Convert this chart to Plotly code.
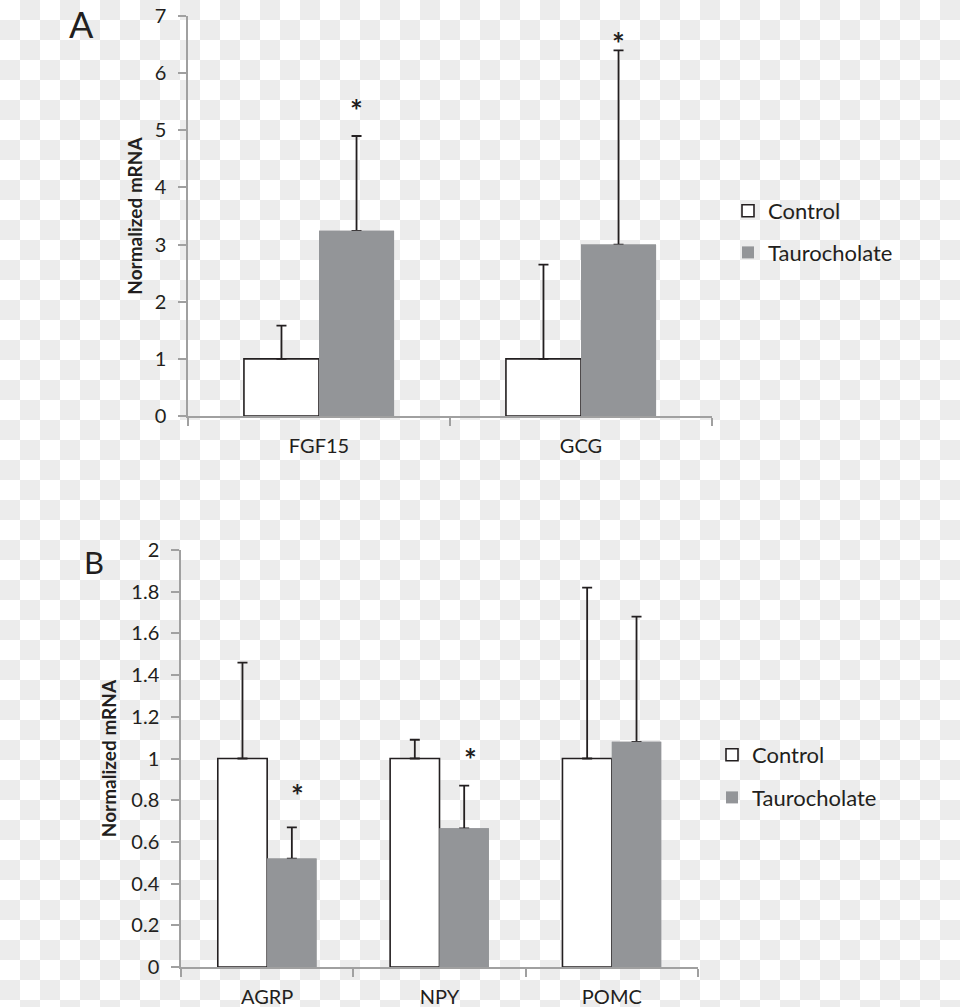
import base64
import plotly.graph_objects as go

# ---------------- data ----------------
# Panel A
genes_a = ["FGF15", "GCG"]
control_a = [1.0, 1.0]
control_a_err = [0.58, 1.65]
tauro_a = [3.24, 3.0]
tauro_a_err = [1.66, 3.4]
star_a_genes = ["FGF15", "GCG"]
star_a_y = [5.45, 6.62]
yticks_a = [0, 1, 2, 3, 4, 5, 6, 7]
yticklabels_a = ["0", "1", "2", "3", "4", "5", "6", "7"]

# Panel B
genes_b = ["AGRP", "NPY", "POMC"]
control_b = [1.0, 1.0, 1.0]
control_b_err = [0.46, 0.09, 0.82]
tauro_b = [0.52, 0.665, 1.08]
tauro_b_err = [0.15, 0.205, 0.60]
star_b_genes = ["AGRP", "NPY"]
star_b_y = [0.85, 1.02]
yticks_b = [0, 0.2, 0.4, 0.6, 0.8, 1.0, 1.2, 1.4, 1.6, 1.8, 2.0]
yticklabels_b = ["0", "0.2", "0.4", "0.6", "0.8", "1", "1.2", "1.4", "1.6", "1.8", "2"]

series_names = ["Control", "Taurocholate"]

# ---------------- style ----------------
W, H = 960, 1007
FONT = "Lato"
DARK = "#231f20"
GREY_BAR = "#939598"
AXIS = "#a0a0a0"
BARGAP = 0.427

def px(x):
    return x / W

def py(y):
    return 1 - y / H

fig = go.Figure()

def add_panel(genes, ctrl, ctrl_err, tau, tau_err, xa, ya, legend):
    err_style = dict(type="data", symmetric=False, color=DARK, thickness=1.8, width=5)
    fig.add_trace(go.Bar(
        x=genes, y=ctrl, name=series_names[0], xaxis=xa, yaxis=ya, legend=legend,
        offsetgroup="c",
        marker=dict(color="white", line=dict(color=DARK, width=1.6)),
        error_y=dict(err_style, array=ctrl_err, arrayminus=[0] * len(ctrl)),
        legendgroup=legend + "c",
    ))
    # Taurocholate bars carrying the (upper) error bars
    fig.add_trace(go.Bar(
        x=genes, y=tau, name=series_names[1], xaxis=xa, yaxis=ya, legend=legend,
        offsetgroup="t",
        marker=dict(color=GREY_BAR, line=dict(color=GREY_BAR, width=0)),
        error_y=dict(err_style, array=tau_err, arrayminus=[0] * len(tau)),
        legendgroup=legend + "t",
    ))
    # same bars again on top, so the lower error-bar cap is hidden inside the bar
    fig.add_trace(go.Bar(
        x=genes, y=tau, name=series_names[1], xaxis=xa, yaxis=ya, legend=legend,
        offsetgroup="t", showlegend=False, hoverinfo="skip",
        marker=dict(color=GREY_BAR, line=dict(color=GREY_BAR, width=0)),
        legendgroup=legend + "t",
    ))

add_panel(genes_a, control_a, control_a_err, tauro_a, tauro_a_err, "x", "y", "legend")
add_panel(genes_b, control_b, control_b_err, tauro_b, tauro_b_err, "x2", "y2", "legend2")

# asterisks (placed in category-index units over the Taurocholate bars)
bar_off = (1 - BARGAP) / 4
star_font = dict(family=FONT, size=30, color=DARK, weight="bold")
for g, yv in zip(star_a_genes, star_a_y):
    fig.add_annotation(x=genes_a.index(g) + bar_off, y=yv, xref="x", yref="y", text="*",
                       showarrow=False, font=star_font, yanchor="middle", xanchor="center",
                       yshift=-5)
for g, yv in zip(star_b_genes, star_b_y):
    fig.add_annotation(x=genes_b.index(g) + bar_off + 0.035, y=yv, xref="x2", yref="y2", text="*",
                       showarrow=False, font=star_font, yanchor="middle", xanchor="center",
                       yshift=-5)

# panel letters
fig.add_annotation(x=px(81), y=1, xref="paper", yref="paper", text="A", showarrow=False,
                   font=dict(family=FONT, size=36, color=DARK), xanchor="center", yanchor="top")
fig.add_annotation(x=px(94), y=py(562), xref="paper", yref="paper", text="B", showarrow=False,
                   font=dict(family=FONT, size=31, color=DARK), xanchor="center", yanchor="middle")

tick_font = dict(family=FONT, size=20, color=DARK)
axis_common = dict(showline=True, linecolor=AXIS, linewidth=1.5, ticks="outside", ticklen=8,
                   tickcolor=AXIS, tickwidth=1.5, showgrid=False, zeroline=False,
                   tickfont=tick_font, automargin=False)

title_font = dict(family=FONT, size=19, color=DARK, weight="bold")
legend_font = dict(family=FONT, size=22, color=DARK)

# checkerboard background (transparent-image look of the source)
svg = (
    f"<svg xmlns='http://www.w3.org/2000/svg' width='{W}' height='{H}'>"
    "<defs><pattern id='p' width='40' height='40' patternUnits='userSpaceOnUse'>"
    "<rect width='40' height='40' fill='#ffffff'/>"
    "<rect x='20' y='0' width='20' height='20' fill='#ececec'/>"
    "<rect x='0' y='20' width='20' height='20' fill='#ececec'/>"
    "</pattern></defs>"
    f"<rect width='{W}' height='{H}' fill='url(#p)'/></svg>"
)
svg_uri = "data:image/svg+xml;base64," + base64.b64encode(svg.encode()).decode()

fig.update_layout(
    width=W, height=H, template="none",
    margin=dict(l=0, r=0, t=0, b=0),
    paper_bgcolor="white", plot_bgcolor="rgba(0,0,0,0)",
    barmode="group", bargap=BARGAP, bargroupgap=0,
    font=dict(family=FONT, color=DARK),
    images=[dict(source=svg_uri, xref="paper", yref="paper", x=0, y=1, sizex=1, sizey=1,
                 xanchor="left", yanchor="top", sizing="stretch", layer="below")],
    xaxis=dict(axis_common, domain=[px(188), px(712)], anchor="y", type="category",
               range=[-0.5, len(genes_a) - 0.5], tickson="boundaries", ticklabelstandoff=11),
    yaxis=dict(axis_common, domain=[py(416), py(16)], anchor="x", range=[0, 7],
               tickvals=yticks_a, ticktext=yticklabels_a, ticklabelstandoff=8,
               title=dict(text="Normalized mRNA", font=title_font, standoff=7)),
    xaxis2=dict(axis_common, domain=[px(181), px(698)], anchor="y2", type="category",
                range=[-0.5, len(genes_b) - 0.5], tickson="boundaries", ticklabelstandoff=11),
    yaxis2=dict(axis_common, domain=[py(967), py(550)], anchor="x2", range=[0, 2],
                tickvals=yticks_b, ticktext=yticklabels_b, ticklabelstandoff=8,
                title=dict(text="Normalized mRNA", font=title_font, standoff=10)),
    legend=dict(x=px(728), y=py(190), xanchor="left", yanchor="top", bgcolor="rgba(0,0,0,0)",
                font=legend_font, tracegroupgap=10, traceorder="grouped"),
    legend2=dict(x=px(712), y=py(734), xanchor="left", yanchor="top", bgcolor="rgba(0,0,0,0)",
                 font=legend_font, tracegroupgap=11, traceorder="grouped"),
)

fig.write_html("out.html", config={"displayModeBar": False},
               post_script="document.body.style.margin='0';")
